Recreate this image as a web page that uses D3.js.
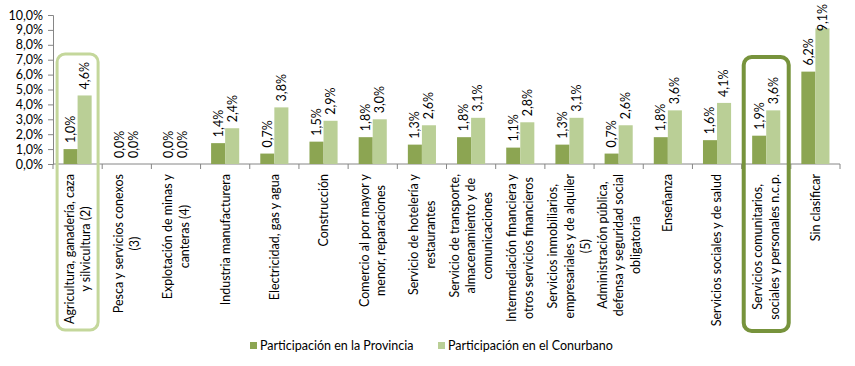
<!DOCTYPE html>
<html><head><meta charset="utf-8">
<script src="https://cdn.jsdelivr.net/npm/d3@7"></script>
<style>body{margin:0;background:#fff}svg{display:block}</style>
</head><body>
<svg id="c" width="855" height="366"></svg>
<script>
const categories = [
  ["Agricultura, ganadería, caza", "y silvicultura (2)"],
  ["Pesca y servicios conexos", "(3)"],
  ["Explotación de minas y", "canteras (4)"],
  ["Industria manufacturera"],
  ["Electricidad, gas y agua"],
  ["Construcción"],
  ["Comercio al por mayor y", "menor, reparaciones"],
  ["Servicio de hotelería y", "restaurantes"],
  ["Servicio de transporte,", "almacenamiento y de", "comunicaciones"],
  ["Intermediación financiera y", "otros servicios financieros"],
  ["Servicios inmobiliarios,", "empresariales y de alquiler", "(5)"],
  ["Administración pública,", "defensa y seguridad social", "obligatoria"],
  ["Enseñanza"],
  ["Servicios sociales y de salud"],
  ["Servicios comunitarios,", "sociales y personales n.c.p."],
  ["Sin clasificar"]
];
const provincia = [1.0, 0.0, 0.0, 1.4, 0.7, 1.5, 1.8, 1.3, 1.8, 1.1, 1.3, 0.7, 1.8, 1.6, 1.9, 6.2];
const conurbano = [4.6, 0.0, 0.0, 2.4, 3.8, 2.9, 3.0, 2.6, 3.1, 2.8, 3.1, 2.6, 3.6, 4.1, 3.6, 9.1];
const seriesNames = ["Participación en la Provincia", "Participación en el Conurbano"];
const yTicks = [0,1,2,3,4,5,6,7,8,9,10];
const highlighted = [0, 14];

const colors = ["#8CA552", "#BACF96"];
const boxColors = ["#C4D79B", "#77933C"];
const font = "Lato, 'Open Sans', sans-serif";
const fmt = v => v.toFixed(1).replace(".", ",") + "%";

const svg = d3.select("#c");
const mLeft = 53, mRight = 840, mTop = 15, mBottom = 164;
const x = d3.scaleBand().domain(d3.range(categories.length)).range([mLeft, mRight]);
const inner = d3.scaleBand().domain([0,1]).range([0, x.bandwidth()]).paddingInner(0).paddingOuter(0.75);
const y = d3.scaleLinear().domain([0, 10]).range([mBottom, mTop]);

// y axis
const ya = svg.append("g").attr("transform", `translate(${mLeft},0)`)
  .call(d3.axisLeft(y).tickValues(yTicks).tickSize(5).tickPadding(5).tickFormat(fmt));
ya.selectAll("path,line").attr("stroke", "#868686");
ya.selectAll("text").attr("font-family", font).attr("font-size", 12.5).attr("fill", "#000");

// x axis baseline + ticks at boundaries
svg.append("line").attr("x1", mLeft).attr("x2", mRight).attr("y1", mBottom).attr("y2", mBottom).attr("stroke", "#868686");
svg.selectAll(".xt").data(d3.range(categories.length + 1)).join("line")
  .attr("x1", i => mLeft + i * x.step()).attr("x2", i => mLeft + i * x.step())
  .attr("y1", mBottom).attr("y2", mBottom + 5).attr("stroke", "#868686");

// bars
const series = [provincia, conurbano];
series.forEach((vals, s) => {
  svg.append("g").selectAll("rect").data(vals).join("rect")
    .attr("x", (d, i) => x(i) + inner(s))
    .attr("y", d => y(d))
    .attr("width", inner.bandwidth())
    .attr("height", d => mBottom - y(d))
    .attr("fill", colors[s]);
  const labels = svg.append("g").selectAll("text").data(vals).join("text")
    .attr("dy", "0.35em")
    .attr("font-family", font).attr("font-size", 12.5).attr("fill", "#000")
    .text(d => fmt(d));
  labels.each(function(d, i) {
    const len = this.getComputedTextLength();
    let base = y(d) - 6;
    if (base - len < 4) base = 4 + len;
    d3.select(this).attr("transform",
      `translate(${x(i) + inner(s) + inner.bandwidth()/2},${base}) rotate(-90)`);
  });
});

// category labels
const lh = 16.5;
categories.forEach((lines, i) => {
  const g = svg.append("g").attr("transform", `translate(${x(i) + x.bandwidth()/2},174) rotate(-90)`);
  const texts = lines.map((t, k) => g.append("text")
    .attr("font-family", font).attr("font-size", 12.5).attr("fill", "#000")
    .attr("text-anchor", "middle")
    .attr("y", (k - (lines.length - 1) / 2) * lh)
    .attr("dy", "0.35em")
    .text(t));
  const W = d3.max(texts, t => t.node().getComputedTextLength());
  texts.forEach(t => t.attr("x", -W / 2));
});

// highlight boxes
highlighted.forEach((ci, k) => {
  const cx = x(ci) + x.bandwidth()/2;
  const w = k === 0 ? 41 : 45;
  svg.append("rect")
    .attr("x", cx - w/2).attr("y", k === 0 ? 54 : 57)
    .attr("width", w).attr("height", k === 0 ? 276 : 274)
    .attr("rx", 8).attr("ry", 8)
    .attr("fill", "none").attr("stroke", boxColors[k]).attr("stroke-width", k === 0 ? 3 : 4);
});

// legend
const legX = [250, 438];
seriesNames.forEach((n, s) => {
  svg.append("rect").attr("x", legX[s]).attr("y", 342).attr("width", 7).attr("height", 7).attr("fill", colors[s]);
  svg.append("text").attr("x", legX[s] + 10).attr("y", 346).attr("dy", "0.35em")
    .attr("font-family", font).attr("font-size", 12.5).attr("fill", "#000").text(n);
});
</script>
</body></html>
